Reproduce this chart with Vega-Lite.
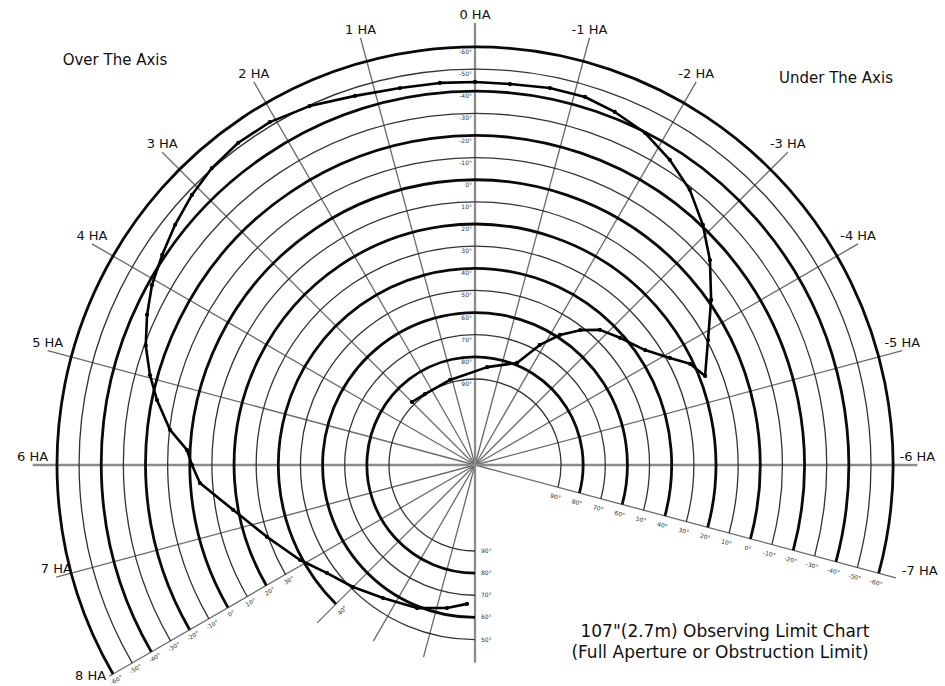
{
  "$schema": "https://vega.github.io/schema/vega-lite/v6.json",
  "width": 945,
  "height": 686,
  "padding": 0,
  "autosize": {"type": "none"},
  "background": "white",
  "config": {"view": {"stroke": null}, "font": "DejaVu Sans"},
  "datasets": {
    "hours": [
      {"ha": 8, "dec_end": -62, "kind": "hour", "label": "8 HA", "pos": "endleft"},
      {"ha": 7, "dec_end": -67, "kind": "hour", "label": "7 HA", "pos": "end"},
      {"ha": 6, "dec_end": -71, "kind": "main", "label": "6 HA", "pos": "end"},
      {"ha": 5, "dec_end": -71, "kind": "hour", "label": "5 HA", "pos": "end"},
      {"ha": 4, "dec_end": -71, "kind": "hour", "label": "4 HA", "pos": "end"},
      {"ha": 3, "dec_end": -71, "kind": "hour", "label": "3 HA", "pos": "end"},
      {"ha": 2, "dec_end": -71, "kind": "hour", "label": "2 HA", "pos": "end"},
      {"ha": 1, "dec_end": -71, "kind": "hour", "label": "1 HA", "pos": "end"},
      {"ha": 0, "dec_end": -71, "kind": "main", "label": "0 HA", "pos": "end"},
      {"ha": -1, "dec_end": -71, "kind": "hour", "label": "-1 HA", "pos": "end"},
      {"ha": -2, "dec_end": -71, "kind": "hour", "label": "-2 HA", "pos": "end"},
      {"ha": -3, "dec_end": -71, "kind": "hour", "label": "-3 HA", "pos": "end"},
      {"ha": -4, "dec_end": -71, "kind": "hour", "label": "-4 HA", "pos": "end"},
      {"ha": -5, "dec_end": -71, "kind": "hour", "label": "-5 HA", "pos": "end"},
      {"ha": -6, "dec_end": -71, "kind": "main", "label": "-6 HA", "pos": "end"},
      {"ha": -7, "dec_end": -68, "kind": "hour", "label": "-7 HA", "pos": "endright"},
      {"ha": 9, "dec_end": 28, "kind": "short", "label": "", "pos": "none"},
      {"ha": 10, "dec_end": 37, "kind": "short", "label": "", "pos": "none"},
      {"ha": 11, "dec_end": 39, "kind": "short", "label": "", "pos": "none"},
      {"ha": 12, "dec_end": 39.5, "kind": "mainshort", "label": "", "pos": "none"}
    ],
    "circles": [
      {"dec": 90, "ha1": 12, "ha2": -7, "kind": "minor"},
      {"dec": 80, "ha1": 12, "ha2": -7, "kind": "major"},
      {"dec": 70, "ha1": 12, "ha2": -7, "kind": "minor"},
      {"dec": 60, "ha1": 12, "ha2": -7, "kind": "major"},
      {"dec": 50, "ha1": 12, "ha2": -7, "kind": "minor"},
      {"dec": 40, "ha1": 9, "ha2": -7, "kind": "major"},
      {"dec": 30, "ha1": 8, "ha2": -7, "kind": "minor"},
      {"dec": 20, "ha1": 8, "ha2": -7, "kind": "major"},
      {"dec": 10, "ha1": 8, "ha2": -7, "kind": "minor"},
      {"dec": 0, "ha1": 8, "ha2": -7, "kind": "major"},
      {"dec": -10, "ha1": 8, "ha2": -7, "kind": "minor"},
      {"dec": -20, "ha1": 8, "ha2": -7, "kind": "major"},
      {"dec": -30, "ha1": 8, "ha2": -7, "kind": "minor"},
      {"dec": -40, "ha1": 8, "ha2": -7, "kind": "major"},
      {"dec": -50, "ha1": 8, "ha2": -7, "kind": "minor"},
      {"dec": -60, "ha1": 8, "ha2": -7, "kind": "major"}
    ],
    "declabels": [
      {"ha": 0, "dec": 90, "text": "90°", "side": "top"},
      {"ha": 0, "dec": 80, "text": "80°", "side": "top"},
      {"ha": 0, "dec": 70, "text": "70°", "side": "top"},
      {"ha": 0, "dec": 60, "text": "60°", "side": "top"},
      {"ha": 0, "dec": 50, "text": "50°", "side": "top"},
      {"ha": 0, "dec": 40, "text": "40°", "side": "top"},
      {"ha": 0, "dec": 30, "text": "30°", "side": "top"},
      {"ha": 0, "dec": 20, "text": "20°", "side": "top"},
      {"ha": 0, "dec": 10, "text": "10°", "side": "top"},
      {"ha": 0, "dec": 0, "text": "0°", "side": "top"},
      {"ha": 0, "dec": -10, "text": "-10°", "side": "top"},
      {"ha": 0, "dec": -20, "text": "-20°", "side": "top"},
      {"ha": 0, "dec": -30, "text": "-30°", "side": "top"},
      {"ha": 0, "dec": -40, "text": "-40°", "side": "top"},
      {"ha": 0, "dec": -50, "text": "-50°", "side": "top"},
      {"ha": 0, "dec": -60, "text": "-60°", "side": "top"},
      {"ha": -7, "dec": 90, "text": "90°", "side": "right"},
      {"ha": -7, "dec": 80, "text": "80°", "side": "right"},
      {"ha": -7, "dec": 70, "text": "70°", "side": "right"},
      {"ha": -7, "dec": 60, "text": "60°", "side": "right"},
      {"ha": -7, "dec": 50, "text": "50°", "side": "right"},
      {"ha": -7, "dec": 40, "text": "40°", "side": "right"},
      {"ha": -7, "dec": 30, "text": "30°", "side": "right"},
      {"ha": -7, "dec": 20, "text": "20°", "side": "right"},
      {"ha": -7, "dec": 10, "text": "10°", "side": "right"},
      {"ha": -7, "dec": 0, "text": "0°", "side": "right"},
      {"ha": -7, "dec": -10, "text": "-10°", "side": "right"},
      {"ha": -7, "dec": -20, "text": "-20°", "side": "right"},
      {"ha": -7, "dec": -30, "text": "-30°", "side": "right"},
      {"ha": -7, "dec": -40, "text": "-40°", "side": "right"},
      {"ha": -7, "dec": -50, "text": "-50°", "side": "right"},
      {"ha": -7, "dec": -60, "text": "-60°", "side": "right"},
      {"ha": 8, "dec": 30, "text": "30°", "side": "left"},
      {"ha": 8, "dec": 20, "text": "20°", "side": "left"},
      {"ha": 8, "dec": 10, "text": "10°", "side": "left"},
      {"ha": 8, "dec": 0, "text": "0°", "side": "left"},
      {"ha": 8, "dec": -10, "text": "-10°", "side": "left"},
      {"ha": 8, "dec": -20, "text": "-20°", "side": "left"},
      {"ha": 8, "dec": -30, "text": "-30°", "side": "left"},
      {"ha": 8, "dec": -40, "text": "-40°", "side": "left"},
      {"ha": 8, "dec": -50, "text": "-50°", "side": "left"},
      {"ha": 8, "dec": -60, "text": "-60°", "side": "left"},
      {"ha": 12, "dec": 90, "text": "90°", "side": "bottom"},
      {"ha": 12, "dec": 80, "text": "80°", "side": "bottom"},
      {"ha": 12, "dec": 70, "text": "70°", "side": "bottom"},
      {"ha": 12, "dec": 60, "text": "60°", "side": "bottom"},
      {"ha": 12, "dec": 50, "text": "50°", "side": "bottom"},
      {"ha": 9, "dec": 40, "text": "40°", "side": "diag"}
    ],
    "curve": [
      {"i": 1, "ha": 3.0, "dec": 88.6},
      {"i": 2, "ha": 2.35, "dec": 89.6},
      {"i": 3, "ha": 1.09, "dec": 88.8},
      {"i": 4, "ha": -0.47, "dec": 84.3},
      {"i": 5, "ha": -1.49, "dec": 79.0},
      {"i": 6, "ha": -1.89, "dec": 67.2},
      {"i": 7, "ha": -2.21, "dec": 58.7},
      {"i": 8, "ha": -2.53, "dec": 51.6},
      {"i": 9, "ha": -2.85, "dec": 45.7},
      {"i": 10, "ha": -3.25, "dec": 41.7},
      {"i": 11, "ha": -3.73, "dec": 36.1},
      {"i": 12, "ha": -4.08, "dec": 28.4},
      {"i": 13, "ha": -4.32, "dec": 21.5},
      {"i": 14, "ha": -4.59, "dec": 17.4},
      {"i": 15, "ha": -4.12, "dec": 9.4},
      {"i": 16, "ha": -3.67, "dec": -1.3},
      {"i": 17, "ha": -3.26, "dec": -12.0},
      {"i": 18, "ha": -2.90, "dec": -20.7},
      {"i": 19, "ha": -2.53, "dec": -28.9},
      {"i": 20, "ha": -2.17, "dec": -34.7},
      {"i": 21, "ha": -1.81, "dec": -39.7},
      {"i": 22, "ha": -1.44, "dec": -42.7},
      {"i": 23, "ha": -1.11, "dec": -44.7},
      {"i": 24, "ha": -0.75, "dec": -44.8},
      {"i": 25, "ha": -0.35, "dec": -44.0},
      {"i": 26, "ha": 0.0, "dec": -44.2},
      {"i": 27, "ha": 0.35, "dec": -44.5},
      {"i": 28, "ha": 0.75, "dec": -44.8},
      {"i": 29, "ha": 1.20, "dec": -46.5},
      {"i": 30, "ha": 1.65, "dec": -49.7},
      {"i": 31, "ha": 2.06, "dec": -51.7},
      {"i": 32, "ha": 2.42, "dec": -51.8},
      {"i": 33, "ha": 2.77, "dec": -50.4},
      {"i": 34, "ha": 3.09, "dec": -47.9},
      {"i": 35, "ha": 3.42, "dec": -44.75},
      {"i": 36, "ha": 3.74, "dec": -41.4},
      {"i": 37, "ha": 4.06, "dec": -38.2},
      {"i": 38, "ha": 4.36, "dec": -34.1},
      {"i": 39, "ha": 4.67, "dec": -29.4},
      {"i": 40, "ha": 4.97, "dec": -23.5},
      {"i": 41, "ha": 5.23, "dec": -17.8},
      {"i": 42, "ha": 5.56, "dec": -9.9},
      {"i": 43, "ha": 5.80, "dec": -1.5},
      {"i": 44, "ha": 6.0, "dec": 1.0},
      {"i": 45, "ha": 6.25, "dec": 4.3},
      {"i": 46, "ha": 6.70, "dec": 17.7},
      {"i": 47, "ha": 7.27, "dec": 29.4},
      {"i": 48, "ha": 7.90, "dec": 38.9},
      {"i": 49, "ha": 8.41, "dec": 46.1},
      {"i": 50, "ha": 9.0, "dec": 50.9},
      {"i": 51, "ha": 9.69, "dec": 55.8},
      {"i": 52, "ha": 10.53, "dec": 59.1},
      {"i": 53, "ha": 11.26, "dec": 63.0},
      {"i": 54, "ha": 11.78, "dec": 66.0}
    ],
    "notes": [
      {"x": -360, "y": 405, "text": "Over The Axis", "kind": "corner"},
      {"x": 361, "y": 387, "text": "Under The Axis", "kind": "corner"},
      {"x": 250, "y": -167, "text": "107\"(2.7m) Observing Limit Chart", "kind": "title"},
      {"x": 245, "y": -188, "text": "(Full Aperture or Obstruction Limit)", "kind": "title"}
    ]
  },
  "layer": [
    {
      "data": {"name": "hours"},
      "transform": [{"filter": "datum.kind == 'hour' || datum.kind == 'short'"}],
      "mark": {"type": "arc", "fillOpacity": 0, "stroke": "#6a6a6a", "strokeWidth": 1.3},
      "encoding": {
        "x": {"datum": 0, "type": "quantitative", "scale": {"domain": [-475, 470], "nice": false, "zero": false}, "axis": null},
        "y": {"datum": 0, "type": "quantitative", "scale": {"domain": [-221, 465], "nice": false, "zero": false}, "axis": null},
        "theta": {"field": "ha", "type": "quantitative", "stack": null, "scale": {"type": "linear", "domain": [12, -12], "range": [-3.14159265, 3.14159265], "nice": false, "zero": false}},
        "theta2": {"field": "ha"},
        "radius": {"field": "dec_end", "type": "quantitative", "scale": {"type": "linear", "domain": [90, -60], "range": [86, 418], "nice": false, "zero": false}},
        "radius2": {"value": 0}
      }
    },
    {
      "data": {"name": "hours"},
      "transform": [{"filter": "datum.kind == 'main' || datum.kind == 'mainshort'"}],
      "mark": {"type": "arc", "fillOpacity": 0, "stroke": "#8c8c8c", "strokeWidth": 2.3},
      "encoding": {
        "x": {"datum": 0, "type": "quantitative", "axis": null},
        "y": {"datum": 0, "type": "quantitative", "axis": null},
        "theta": {"field": "ha", "type": "quantitative", "stack": null},
        "theta2": {"field": "ha"},
        "radius": {"field": "dec_end", "type": "quantitative"},
        "radius2": {"value": 0}
      }
    },
    {
      "data": {"name": "circles"},
      "transform": [{"filter": "datum.kind == 'minor'"}],
      "mark": {"type": "arc", "fillOpacity": 0, "stroke": "#333333", "strokeWidth": 1.3},
      "encoding": {
        "x": {"datum": 0, "type": "quantitative", "axis": null},
        "y": {"datum": 0, "type": "quantitative", "axis": null},
        "theta": {"field": "ha1", "type": "quantitative", "stack": null},
        "theta2": {"field": "ha2"},
        "radius": {"field": "dec", "type": "quantitative"},
        "radius2": {"field": "dec"}
      }
    },
    {
      "data": {"name": "circles"},
      "transform": [{"filter": "datum.kind == 'major'"}],
      "mark": {"type": "arc", "fillOpacity": 0, "stroke": "#0a0a0a", "strokeWidth": 2.8},
      "encoding": {
        "x": {"datum": 0, "type": "quantitative", "axis": null},
        "y": {"datum": 0, "type": "quantitative", "axis": null},
        "theta": {"field": "ha1", "type": "quantitative", "stack": null},
        "theta2": {"field": "ha2"},
        "radius": {"field": "dec", "type": "quantitative"},
        "radius2": {"field": "dec"}
      }
    },
    {
      "data": {"name": "curve"},
      "transform": [
        {"calculate": "86 + (90 - datum.dec) * 332 / 150", "as": "r"},
        {"calculate": "-datum.ha * PI / 12", "as": "t"},
        {"calculate": "datum.r * sin(datum.t)", "as": "px"},
        {"calculate": "datum.r * cos(datum.t)", "as": "py"}
      ],
      "mark": {"type": "line", "stroke": "#000000", "strokeWidth": 2.6, "strokeJoin": "round"},
      "encoding": {
        "x": {"field": "px", "type": "quantitative", "axis": null},
        "y": {"field": "py", "type": "quantitative", "axis": null},
        "order": {"field": "i", "type": "quantitative"}
      }
    },
    {
      "data": {"name": "curve"},
      "transform": [
        {"calculate": "86 + (90 - datum.dec) * 332 / 150", "as": "r"},
        {"calculate": "-datum.ha * PI / 12", "as": "t"},
        {"calculate": "datum.r * sin(datum.t)", "as": "px"},
        {"calculate": "datum.r * cos(datum.t)", "as": "py"}
      ],
      "mark": {"type": "point", "filled": true, "color": "#000000", "size": 18, "opacity": 1},
      "encoding": {
        "x": {"field": "px", "type": "quantitative", "axis": null},
        "y": {"field": "py", "type": "quantitative", "axis": null}
      }
    },
    {
      "data": {"name": "hours"},
      "transform": [{"filter": "datum.pos == 'end'"}],
      "mark": {"type": "text", "fontSize": 13, "align": "center", "baseline": "bottom", "dy": -1, "fill": "#111111"},
      "encoding": {
        "x": {"datum": 0, "type": "quantitative", "axis": null},
        "y": {"datum": 0, "type": "quantitative", "axis": null},
        "theta": {"field": "ha", "type": "quantitative", "stack": null},
        "radius": {"field": "dec_end", "type": "quantitative"},
        "text": {"field": "label"}
      }
    },
    {
      "data": {"name": "hours"},
      "transform": [{"filter": "datum.pos == 'endright'"}],
      "mark": {"type": "text", "fontSize": 13, "align": "left", "baseline": "bottom", "dx": 6, "dy": 0, "fill": "#111111"},
      "encoding": {
        "x": {"datum": 0, "type": "quantitative", "axis": null},
        "y": {"datum": 0, "type": "quantitative", "axis": null},
        "theta": {"field": "ha", "type": "quantitative", "stack": null},
        "radius": {"field": "dec_end", "type": "quantitative"},
        "text": {"field": "label"}
      }
    },
    {
      "data": {"name": "hours"},
      "transform": [{"filter": "datum.pos == 'endleft'"}],
      "mark": {"type": "text", "fontSize": 13, "align": "right", "baseline": "middle", "dx": -3, "dy": 0, "fill": "#111111"},
      "encoding": {
        "x": {"datum": 0, "type": "quantitative", "axis": null},
        "y": {"datum": 0, "type": "quantitative", "axis": null},
        "theta": {"field": "ha", "type": "quantitative", "stack": null},
        "radius": {"field": "dec_end", "type": "quantitative"},
        "text": {"field": "label"}
      }
    },
    {
      "data": {"name": "declabels"},
      "transform": [{"filter": "datum.side == 'top'"}],
      "mark": {"type": "text", "fontSize": 6, "align": "right", "baseline": "middle", "dx": -3, "dy": 5, "fill": "#333333"},
      "encoding": {
        "x": {"datum": 0, "type": "quantitative", "axis": null},
        "y": {"datum": 0, "type": "quantitative", "axis": null},
        "theta": {"field": "ha", "type": "quantitative", "stack": null},
        "radius": {"field": "dec", "type": "quantitative"},
        "text": {"field": "text"}
      }
    },
    {
      "data": {"name": "declabels"},
      "transform": [{"filter": "datum.side == 'right'"}],
      "mark": {"type": "text", "fontSize": 6, "align": "center", "baseline": "middle", "angle": 15, "dy": 10, "fill": "#333333"},
      "encoding": {
        "x": {"datum": 0, "type": "quantitative", "axis": null},
        "y": {"datum": 0, "type": "quantitative", "axis": null},
        "theta": {"field": "ha", "type": "quantitative", "stack": null},
        "radius": {"field": "dec", "type": "quantitative"},
        "text": {"field": "text"}
      }
    },
    {
      "data": {"name": "declabels"},
      "transform": [{"filter": "datum.side == 'left'"}],
      "mark": {"type": "text", "fontSize": 6, "align": "center", "baseline": "middle", "angle": -30, "dy": 7, "fill": "#333333"},
      "encoding": {
        "x": {"datum": 0, "type": "quantitative", "axis": null},
        "y": {"datum": 0, "type": "quantitative", "axis": null},
        "theta": {"field": "ha", "type": "quantitative", "stack": null},
        "radius": {"field": "dec", "type": "quantitative"},
        "text": {"field": "text"}
      }
    },
    {
      "data": {"name": "declabels"},
      "transform": [{"filter": "datum.side == 'bottom'"}],
      "mark": {"type": "text", "fontSize": 6, "align": "left", "baseline": "middle", "dx": 6, "fill": "#333333"},
      "encoding": {
        "x": {"datum": 0, "type": "quantitative", "axis": null},
        "y": {"datum": 0, "type": "quantitative", "axis": null},
        "theta": {"field": "ha", "type": "quantitative", "stack": null},
        "radius": {"field": "dec", "type": "quantitative"},
        "text": {"field": "text"}
      }
    },
    {
      "data": {"name": "declabels"},
      "transform": [{"filter": "datum.side == 'diag'"}],
      "mark": {"type": "text", "fontSize": 6, "align": "center", "baseline": "middle", "angle": -45, "dy": 9, "fill": "#333333"},
      "encoding": {
        "x": {"datum": 0, "type": "quantitative", "axis": null},
        "y": {"datum": 0, "type": "quantitative", "axis": null},
        "theta": {"field": "ha", "type": "quantitative", "stack": null},
        "radius": {"field": "dec", "type": "quantitative"},
        "text": {"field": "text"}
      }
    },
    {
      "data": {"name": "notes"},
      "transform": [{"filter": "datum.kind == 'corner'"}],
      "mark": {"type": "text", "fontSize": 15, "align": "center", "baseline": "middle", "fill": "#111111"},
      "encoding": {
        "x": {"field": "x", "type": "quantitative", "axis": null},
        "y": {"field": "y", "type": "quantitative", "axis": null},
        "text": {"field": "text"}
      }
    },
    {
      "data": {"name": "notes"},
      "transform": [{"filter": "datum.kind == 'title'"}],
      "mark": {"type": "text", "fontSize": 17, "align": "center", "baseline": "middle", "fill": "#111111"},
      "encoding": {
        "x": {"field": "x", "type": "quantitative", "axis": null},
        "y": {"field": "y", "type": "quantitative", "axis": null},
        "text": {"field": "text"}
      }
    }
  ]
}
